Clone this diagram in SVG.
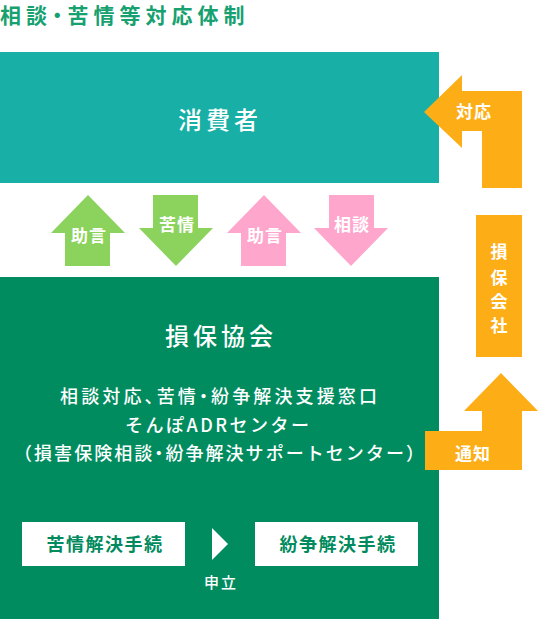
<svg xmlns="http://www.w3.org/2000/svg" width="538" height="619" viewBox="0 0 538 619">
<style>
text{font-family:"Noto Sans CJK JP","Noto Sans",sans-serif;text-anchor:middle;dominant-baseline:central}
.w{fill:#ffffff}
.lbl{font-size:17px;font-weight:bold;fill:#ffffff;letter-spacing:1px}
.big{font-size:24px;font-weight:500;fill:#ffffff;letter-spacing:4px}
.mid{font-size:18px;fill:#ffffff;font-weight:500}
.box{font-size:18px;font-weight:bold;fill:#008a5e;letter-spacing:1.5px}
.p{font-feature-settings:"halt"}
</style>
<rect width="538" height="619" fill="#ffffff"/>
<text x="0" y="14" style="text-anchor:start;font-size:21px;font-weight:bold;fill:#17a070;letter-spacing:5px">相談<tspan class="p">・</tspan>苦情等対応体制</text>

<g id="consumer">
<rect x="0" y="52" width="439" height="131" fill="#17afa6"/>
<text class="big" x="220" y="118">消費者</text>
</g>

<g id="association">
<rect x="0" y="277" width="439" height="342" fill="#008c5f"/>
<text class="big" x="221" y="334">損保協会</text>
<text class="mid" x="60" y="395" style="text-anchor:start" textLength="317" lengthAdjust="spacing">相談対応<tspan class="p">、</tspan>苦情<tspan class="p">・</tspan>紛争解決支援窓口</text>
<text class="mid" x="125" y="424" style="text-anchor:start" textLength="184" lengthAdjust="spacing">そんぽADRセンター</text>
<text class="mid" x="14" y="452" style="text-anchor:start" textLength="410" lengthAdjust="spacing">（損害保険相談<tspan class="p">・</tspan>紛争解決サポートセンター）</text>
</g>

<g id="complaint-proc">
<rect x="22" y="522" width="163" height="44" fill="#ffffff"/>
<text class="box" x="105" y="543">苦情解決手続</text>
</g>
<g id="dispute-proc">
<rect x="255" y="522" width="163" height="44" fill="#ffffff"/>
<text class="box" x="338" y="543">紛争解決手続</text>
</g>

<g id="company">
<rect x="476" y="215" width="46" height="142" fill="#fdae17"/>
<text class="lbl" x="499" y="250" style="letter-spacing:0">損</text>
<text class="lbl" x="499" y="276" style="letter-spacing:0">保</text>
<text class="lbl" x="499" y="300" style="letter-spacing:0">会</text>
<text class="lbl" x="499" y="324" style="letter-spacing:0">社</text>
</g>

<g id="connectors">
<g id="advice1">
<polygon points="88,195 125,233 110,233 110,266 65,266 65,233 51,233" fill="#8bd35c"/>
<text class="lbl" x="89" y="234">助言</text>
</g>
<g id="complaint">
<polygon points="153,195 198,195 198,228 213,228 176,266 139,228 153,228" fill="#8bd35c"/>
<text class="lbl" x="177" y="223">苦情</text>
</g>
<g id="advice2">
<polygon points="264,195 301,233 286,233 286,266 241,266 241,233 227,233" fill="#ffa6cd"/>
<text class="lbl" x="265" y="234">助言</text>
</g>
<g id="consult">
<polygon points="329,195 374,195 374,228 388,228 351,266 314,228 329,228" fill="#ffa6cd"/>
<text class="lbl" x="352" y="223">相談</text>
</g>
<g id="response">
<polygon points="424,112 462,75 462,91 522,91 522,188 482,188 482,131 462,131 462,148" fill="#fdae17"/>
<text class="lbl" x="474" y="110">対応</text>
</g>
<g id="notify">
<polygon points="501,373 538,411 522,411 522,470 425,470 425,431 482,431 482,411 464,411" fill="#fdae17"/>
<text class="lbl" x="473" y="452">通知</text>
</g>
<g id="apply">
<polygon points="212,528 228,544 212,560" fill="#ffffff"/>
<text class="w" x="221" y="581" style="font-size:15px;font-weight:500;letter-spacing:2px">申立</text>
</g>
</g>
</svg>
